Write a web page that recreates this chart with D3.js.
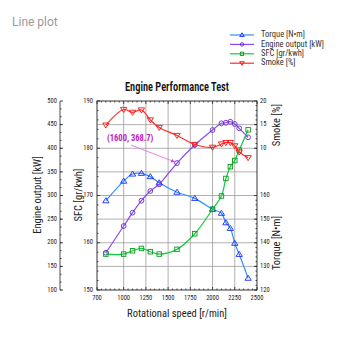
<!DOCTYPE html>
<html><head><meta charset="utf-8">
<script src="https://cdn.jsdelivr.net/npm/d3@7"></script>
<style>
body{margin:0;background:#fff;}
svg{display:block;font-family:"Liberation Sans Narrow","Roboto Condensed","Liberation Sans",Arial,sans-serif;}
</style></head><body>
<svg id="c" width="350" height="350"></svg>
<script>
const rpm = [800,1000,1100,1200,1300,1400,1600,1800,2000,2100,2150,2200,2250,2300,2400];
const torque = [157.8,166.1,169.1,169.4,168.0,165.4,161.4,158.8,154.2,152.5,148.5,146.1,139.8,135.1,125.0];
const output = [178.9,235.4,263.6,289.0,309.5,323.7,368.7,406.9,438.6,452.8,454.0,456.2,451.3,442.2,423.2];
const sfc = [157.6,157.6,158.3,158.8,158.1,157.6,158.6,161.9,167.1,169.9,173.6,176.1,177.4,179.6,183.9];
const smoke = [14.9,18.2,17.6,18.1,16.0,14.4,12.7,10.8,10.2,10.9,11.2,11.2,10.5,9.2,8.0];
const xTicks = [700,1000,1250,1500,1750,2000,2250,2500];
const sfcTicks = [150,160,170,180,190];
const outTicks = [100,150,200,250,300,350,400,450,500];
const smokeTicks = [10,15,20];
const torqueTicks = [120,130,140,150,160];
const seriesNames = ["Torque [N\u2022m]","Engine output [kW]","SFC [gr/kwh]","Smoke [%]"];
const annotation = {x:1600, y:368.7, label:"(1600, 368.7)"};

const svg = d3.select("#c");
const L=97, R=257, T=101, B=290;
const x = d3.scaleLinear().domain([700,2500]).range([L,R]);
const ySfc = d3.scaleLinear().domain([150,190]).range([B,T]);
const yOut = d3.scaleLinear().domain([100,500]).range([B,T]);
const ySmoke = d3.scaleLinear().domain([0,20]).range([(T+B)/2,T]);
const yTorque = d3.scaleLinear().domain([120,200]).range([B,T]);

svg.append("text").attr("x",12).attr("y",26).attr("font-size",12).attr("fill","#9a9a9a")
  .attr("font-family","Roboto, 'Liberation Sans', sans-serif").text("Line plot");

svg.append("text").attr("x",(L+R)/2 - 52).attr("y",91)
  .attr("font-size",13.5).attr("fill","#111").attr("font-weight","600")
  .attr("textLength",104).attr("lengthAdjust","spacingAndGlyphs").text("Engine Performance Test");

// grid
const g = svg.append("g");
d3.range(155,190,5).forEach(v=>{
  g.append("line").attr("x1",L).attr("x2",R).attr("y1",ySfc(v)).attr("y2",ySfc(v)).attr("stroke","#9c9c9c").attr("stroke-width",0.8);
});
[1000,1250,1500,1750,2000,2250].forEach(v=>{
  g.append("line").attr("x1",x(v)).attr("x2",x(v)).attr("y1",T).attr("y2",B).attr("stroke","#9c9c9c").attr("stroke-width",0.8);
});
// frame
svg.append("rect").attr("x",L).attr("y",T).attr("width",R-L).attr("height",B-T).attr("fill","none").attr("stroke","#222").attr("stroke-width",0.9);

const tick = (x1,y1,x2,y2)=>svg.append("line").attr("x1",x1).attr("y1",y1).attr("x2",x2).attr("y2",y2).attr("stroke","#222").attr("stroke-width",0.8);
const lbl = (x0,y0,t,anchor)=>svg.append("text").attr("x",x0).attr("y",y0).attr("font-size",6.5).attr("fill","#222").attr("text-anchor",anchor).attr("dominant-baseline","middle").text(t);

// x axis
xTicks.forEach(v=>{ tick(x(v),B,x(v),B-3); tick(x(v),T,x(v),T+3); lbl(x(v),B+8,v,"middle"); });
d3.range(750,2500,50).filter(v=>!xTicks.includes(v)).forEach(v=>{ tick(x(v),B,x(v),B-1.5); tick(x(v),T,x(v),T+1.5); });
// SFC axis (left of plot)
sfcTicks.forEach(v=>{ tick(L,ySfc(v),L+3,ySfc(v)); lbl(L-4,ySfc(v),v,"end"); });
d3.range(150,190,2).filter(v=>v%10).forEach(v=>tick(L,ySfc(v),L+1.5,ySfc(v)));
// Engine output axis
const OX=60;
tick(OX,T,OX,B);
outTicks.forEach(v=>{ tick(OX,yOut(v),OX+3,yOut(v)); lbl(OX-3,yOut(v),v,"end"); });
d3.range(100,500,50/3).forEach(v=>tick(OX,yOut(v),OX+1.5,yOut(v)));
// right axes
smokeTicks.forEach(v=>{ tick(R,ySmoke(v),R-3,ySmoke(v)); lbl(R+3,ySmoke(v),v,"start"); });
d3.range(10,20,1).forEach(v=>tick(R,ySmoke(v),R-1.5,ySmoke(v)));
torqueTicks.forEach(v=>{ tick(R,yTorque(v),R-3,yTorque(v)); lbl(R+3,yTorque(v),v,"start"); });
d3.range(120,160,2).forEach(v=>tick(R,yTorque(v),R-1.5,yTorque(v)));

// axis titles
const atitle=(x0,y0,t,rot)=>svg.append("text").attr("transform",`translate(${x0},${y0}) rotate(${rot})`)
  .attr("text-anchor","middle").attr("font-size",10.5).attr("fill","#222").text(t);
atitle(41,195,"Engine output [kW]",-90);
atitle(82,195,"SFC [gr/kwh]",-90);
atitle(280,125,"Smoke [%]",-90);
atitle(280,243,"Torque [N\u2022m]",-90);
atitle((L+R)/2,317,"Rotational speed [r/min]",0);

// series
const series = [
  {vals:torque, y:yTorque, line:"#2f8fff", mark:"#1a2cff", sym:"triUp"},
  {vals:output, y:yOut, line:"#8a4af0", mark:"#6a2acc", sym:"circle"},
  {vals:sfc, y:ySfc, line:"#10cc40", mark:"#0a9a1a", sym:"square"},
  {vals:smoke, y:ySmoke, line:"#ff2a2a", mark:"#ff1010", sym:"triDown"}
];
function drawSym(sel,sym,cx,cy,color,s){
  if(sym==="circle") sel.append("circle").attr("cx",cx).attr("cy",cy).attr("r",s*0.8).attr("fill","none").attr("stroke",color).attr("stroke-width",0.9);
  else if(sym==="square") sel.append("rect").attr("x",cx-s*0.75).attr("y",cy-s*0.75).attr("width",s*1.5).attr("height",s*1.5).attr("fill","none").attr("stroke",color).attr("stroke-width",0.9);
  else {
    const d = sym==="triUp" ? [[cx,cy-s],[cx-s*1.05,cy+s*0.7],[cx+s*1.05,cy+s*0.7]] : [[cx,cy+s],[cx-s*1.05,cy-s*0.7],[cx+s*1.05,cy-s*0.7]];
    sel.append("path").attr("d","M"+d.join("L")+"Z").attr("fill","none").attr("stroke",color).attr("stroke-width",0.9);
  }
}
series.forEach(s=>{
  const line = d3.line().x((d,i)=>x(rpm[i])).y(d=>s.y(d)).curve(d3.curveCatmullRom.alpha(0.5));
  svg.append("path").datum(s.vals).attr("d",line).attr("fill","none").attr("stroke",s.line).attr("stroke-width",1.2);
  const gg = svg.append("g");
  s.vals.forEach((v,i)=>drawSym(gg,s.sym,x(rpm[i]),s.y(v),s.mark,3));
});

// annotation
const ax=x(annotation.x), ay=yOut(annotation.y);
svg.append("defs").append("marker").attr("id","ah").attr("viewBox","0 0 10 10").attr("refX",10).attr("refY",5)
  .attr("markerWidth",5).attr("markerHeight",5).attr("orient","auto")
  .append("path").attr("d","M0,0L10,5L0,10Z").attr("fill","#e040e0");
svg.append("line").attr("x1",131).attr("y1",145).attr("x2",ax-2).attr("y2",ay-1).attr("stroke","#e860e8").attr("stroke-width",0.8).attr("marker-end","url(#ah)");
svg.append("text").attr("x",107).attr("y",141).attr("font-size",8.5).attr("fill","#c020c0").attr("font-weight","bold").text(annotation.label);

// legend
const lg = svg.append("g");
seriesNames.forEach((n,i)=>{
  const yy = 35 + i*9.4;
  lg.append("line").attr("x1",230).attr("x2",254).attr("y1",yy).attr("y2",yy).attr("stroke",series[i].line).attr("stroke-width",1.2);
  drawSym(lg,series[i].sym,242,yy,series[i].mark,2.2);
  lg.append("text").attr("x",261).attr("y",yy).attr("dominant-baseline","middle").attr("font-size",8.5).attr("fill","#333").text(n);
});
</script></body></html>
